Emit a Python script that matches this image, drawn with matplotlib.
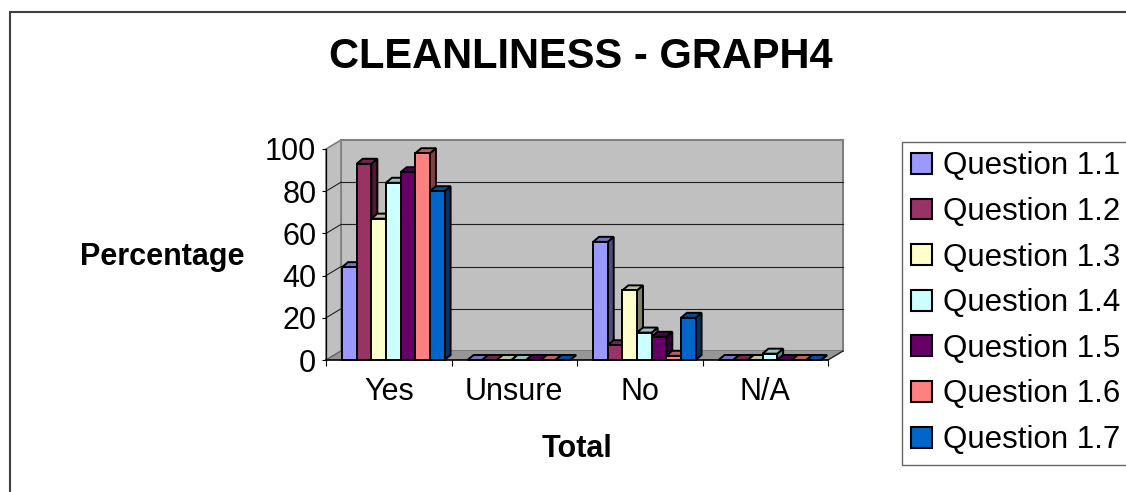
import matplotlib
matplotlib.use('Agg')
import matplotlib.pyplot as plt
from matplotlib.patches import Polygon, Rectangle
from matplotlib.transforms import IdentityTransform
from matplotlib.colors import to_rgb

plt.rcParams['font.family'] = ['Liberation Sans', 'DejaVu Sans']

# ---------------- data ----------------
categories = ['Yes', 'Unsure', 'No', 'N/A']
series_names = ['Question 1.1', 'Question 1.2', 'Question 1.3', 'Question 1.4',
                'Question 1.5', 'Question 1.6', 'Question 1.7']
q1_1 = [44, 0, 56, 0]
q1_2 = [93, 0, 7, 0]
q1_3 = [67, 0, 33, 0]
q1_4 = [84, 0, 13, 3]
q1_5 = [89, 0, 11, 0]
q1_6 = [98, 0, 2, 0]
q1_7 = [80, 0, 20, 0]
series_values = [q1_1, q1_2, q1_3, q1_4, q1_5, q1_6, q1_7]
series_colors = ['#9999FF', '#993366', '#FFFFCC', '#CCFFFF', '#660066', '#FF8080', '#0066CC']
y_ticks = [0, 20, 40, 60, 80, 100]
title = 'CLEANLINESS - GRAPH4'
y_label = 'Percentage'
x_label = 'Total'

# ---------------- layout ----------------
W, H = 1126, 492
fig = plt.figure(figsize=(W / 100, H / 100), dpi=100)
fig.patch.set_facecolor('white')

ax = fig.add_axes([326 / W, 1 - 360 / H, (828 - 326) / W, (360 - 149) / H])
ax.set_xlim(0, len(categories))
ax.set_ylim(0, 100)
ax.patch.set_visible(False)
for s in ['top', 'right']:
    ax.spines[s].set_visible(False)
ax.spines['left'].set_color('black')
ax.spines['left'].set_linewidth(0.9)
ax.spines['bottom'].set_color('black')
ax.spines['bottom'].set_linewidth(1.2)
ax.spines['left'].set_zorder(50)
ax.spines['bottom'].set_zorder(50)

ax.set_yticks(y_ticks)
ax.set_yticklabels([str(v) for v in y_ticks], fontsize=22)
ax.tick_params(axis='y', direction='out', length=3, width=0.8, pad=4)
ax.set_xticks(range(len(categories) + 1))
ax.set_xticklabels([])
ax.tick_params(axis='x', which='major', direction='out', length=4, width=0.8)
ax.set_xticks([i + 0.5 for i in range(len(categories))], minor=True)
ax.set_xticklabels(categories, minor=True, fontsize=22)
ax.tick_params(axis='x', which='minor', length=0, pad=12)

WD = (15, 9)   # wall depth offset (pixels)
BD = (6, 5)    # bar depth offset (pixels)


def pt(x, y, d=(0, 0)):
    X, Y = ax.transData.transform((x, y))
    return (X + d[0], Y + d[1])


def poly(points, fc, ec='none', lw=0.0, z=1):
    p = Polygon(points, closed=True, facecolor=fc, edgecolor=ec, linewidth=lw,
                transform=IdentityTransform(), clip_on=False, zorder=z,
                joinstyle='miter')
    ax.add_patch(p)


def line(p0, p1, color, lw, z):
    ax.add_line(plt.Line2D([p0[0], p1[0]], [p0[1], p1[1]], color=color, lw=lw,
                           transform=IdentityTransform(), clip_on=False, zorder=z))


n = len(categories)
# back wall, side wall, floor
poly([pt(0, 0, WD), pt(n, 0, WD), pt(n, 100, WD), pt(0, 100, WD)], '#C0C0C0', '#808080', 1.5, 1)
poly([pt(0, 0), pt(0, 0, WD), pt(0, 100, WD), pt(0, 100)], '#C0C0C0', '#808080', 1.2, 1)
poly([pt(0, 0), pt(n, 0), pt(n, 0, WD), pt(0, 0, WD)], '#969696', 'none', 0, 2)
line(pt(n, 0), pt(n, 0, WD), '#202020', 1.0, 3)
line(pt(0, 0), pt(0, 0, WD), '#606060', 0.8, 3)

# gridlines
for v in y_ticks[1:-1]:
    line(pt(0, v, WD), pt(n, v, WD), '#202020', 0.8, 3)
    line(pt(0, v), pt(0, v, WD), '#202020', 0.8, 3)

# bars
bw = 0.1167
off = 0.128
z = 10
for i in range(n):
    for j, (vals, col) in enumerate(zip(series_values, series_colors)):
        h = vals[i]
        x0 = i + off + j * bw
        x1 = x0 + bw
        c = to_rgb(col)
        top_c = tuple(0.75 * k for k in c)
        side_c = tuple(0.5 * k for k in c)
        poly([pt(x1, 0), pt(x1, 0, BD), pt(x1, h, BD), pt(x1, h)], side_c, 'black', 1.4, z)
        poly([pt(x0, h), pt(x1, h), pt(x1, h, BD), pt(x0, h, BD)], top_c, 'black', 1.4, z)
        poly([pt(x0, 0), pt(x1, 0), pt(x1, h), pt(x0, h)], c, 'black', 1.4, z)
        z += 1

# texts
fig.text(581 / W, 1 - 68 / H, title, ha='center', va='baseline', fontsize=30, fontweight='bold')
fig.text(162 / W, 1 - 265 / H, y_label, ha='center', va='baseline', fontsize=22, fontweight='bold')
fig.text(577 / W, 1 - 457 / H, x_label, ha='center', va='baseline', fontsize=22, fontweight='bold')

# legend
handles = [Rectangle((0, 0), 1, 1, facecolor=c, edgecolor='black', linewidth=1.5)
           for c in series_colors]
leg = fig.legend(handles, series_names, loc='upper left',
                 bbox_to_anchor=(902 / W, 1 - 142 / H), bbox_transform=fig.transFigure,
                 fontsize=22.5, frameon=True, fancybox=False, edgecolor='#404040',
                 handlelength=0.65, handleheight=0.65, handletextpad=0.36,
                 labelspacing=0.5, borderpad=0.3, borderaxespad=0)
leg.get_frame().set_linewidth(1.0)

# chart area border
fig.add_artist(Rectangle((10 / W, -0.5), 2, (1 - 12 / H) + 0.5, transform=fig.transFigure,
                         fill=False, edgecolor='#404040', linewidth=1.5))

fig.savefig('out.png', dpi=100)
